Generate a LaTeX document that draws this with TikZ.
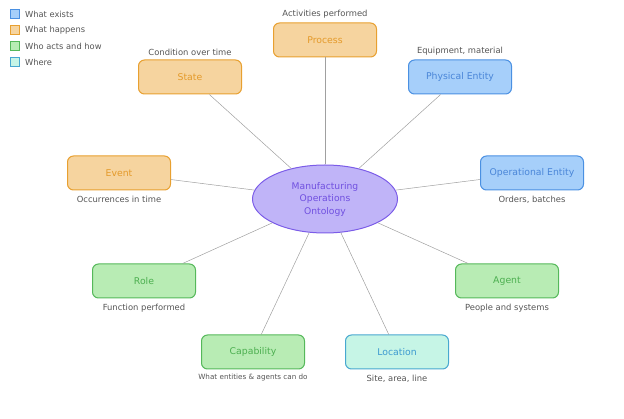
\documentclass[tikz,border=0pt]{standalone}
\usepackage{fontspec}
\setmainfont{DejaVu Sans}
\usetikzlibrary{shapes.geometric,positioning}

\definecolor{existfill}{HTML}{A6CFFA}
\definecolor{existdraw}{HTML}{4A90E2}
\definecolor{existtext}{HTML}{4A86D8}
\definecolor{happenfill}{HTML}{F6D49F}
\definecolor{happendraw}{HTML}{E8A030}
\definecolor{happentext}{HTML}{E49A2A}
\definecolor{actfill}{HTML}{B8ECB4}
\definecolor{actdraw}{HTML}{55B85A}
\definecolor{acttext}{HTML}{4CAF50}
\definecolor{wherefill}{HTML}{C6F5E6}
\definecolor{wheredraw}{HTML}{48A8D0}
\definecolor{wheretext}{HTML}{3C9AD0}
\definecolor{ontofill}{HTML}{C0B4F8}
\definecolor{ontodraw}{HTML}{7B5CE8}
\definecolor{ontotext}{HTML}{7050E0}
\definecolor{notegray}{HTML}{555555}
\definecolor{linkgray}{HTML}{A0A0A0}

\begin{document}
\begin{tikzpicture}[x=1pt,y=-1pt]

\tikzset{concept/.style={draw,rounded corners=6pt,line width=1pt,minimum width=103pt,minimum height=34pt,font=\fontsize{9.3}{11}\selectfont},
  exists/.style={concept,fill=existfill,draw=existdraw,text=existtext},
  happens/.style={concept,fill=happenfill,draw=happendraw,text=happentext},
  acts/.style={concept,fill=actfill,draw=actdraw,text=acttext},
  where/.style={concept,fill=wherefill,draw=wheredraw,text=wheretext},
  note/.style={font=\fontsize{8.4}{10}\selectfont,text=notegray,inner sep=1pt},
  link/.style={draw=linkgray,line width=0.5pt},
  legendkey/.style={draw,line width=0.8pt,minimum size=9pt,inner sep=0pt},
  legendtext/.style={font=\fontsize{8.3}{10}\selectfont,text=notegray,inner sep=0pt}}

\useasboundingbox (0,0) rectangle (624,419);

% legend
\node[legendkey,fill=existfill,draw=existdraw] (keyexists) at (15,14) {};
\node[legendtext,right=5pt of keyexists] (txtexists) {What exists};
\node[legendkey,fill=happenfill,draw=happendraw] (keyhappens) at (15,30) {};
\node[legendtext,right=5pt of keyhappens] (txthappens) {What happens};
\node[legendkey,fill=actfill,draw=actdraw] (keyacts) at (15,46) {};
\node[legendtext,right=5pt of keyacts] (txtacts) {Who acts and how};
\node[legendkey,fill=wherefill,draw=wheredraw] (keywhere) at (15,62) {};
\node[legendtext,right=5pt of keywhere] (txtwhere) {Where};

% centre
\node[ellipse,draw=ontodraw,fill=ontofill,text=ontotext,line width=1pt,minimum width=145pt,minimum height=68pt,inner sep=0pt,align=center,font=\fontsize{9.2}{12.5}\selectfont] (onto) at (325,199) {Manufacturing\\Operations\\Ontology};

% concepts
\node[happens] (process) at (325,40) {Process};
\node[note,above=3pt of process] (processnote) {Activities performed};
\node[happens] (state) at (190,77) {State};
\node[note,above=3pt of state] (statenote) {Condition over time};
\node[exists] (physical) at (460,77) {Physical Entity};
\node[note,above=3pt of physical] (physicalnote) {Equipment, material};
\node[exists] (operational) at (532,173) {Operational Entity};
\node[note,below=4pt of operational] (operationalnote) {Orders, batches};
\node[happens] (event) at (119,173) {Event};
\node[note,below=4pt of event] (eventnote) {Occurrences in time};
\node[acts] (role) at (144,281) {Role};
\node[note,below=4pt of role] (rolenote) {Function performed};
\node[acts] (agent) at (507,281) {Agent};
\node[note,below=4pt of agent] (agentnote) {People and systems};
\node[acts] (capability) at (253,352) {Capability};
\node[note,below=3pt of capability,font=\fontsize{7.2}{8}\selectfont] (capabilitynote) {What entities \& agents can do};
\node[where] (location) at (397,352) {Location};
\node[note,below=4pt of location] (locationnote) {Site, area, line};

% links
\foreach \c in {process,state,physical,operational,event,role,agent,capability,location}
  \draw[link] (onto) -- (\c);

\end{tikzpicture}
\end{document}
